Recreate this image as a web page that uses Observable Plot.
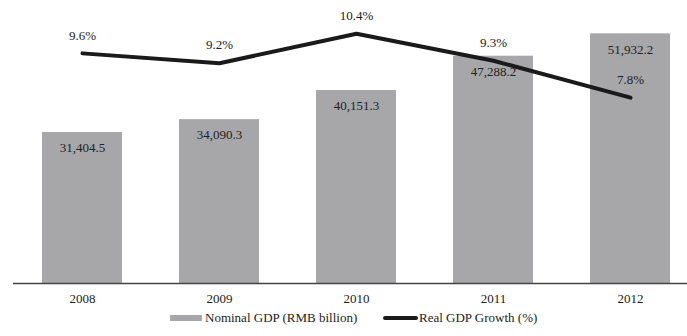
<!DOCTYPE html>
<html>
<head>
<meta charset="utf-8">
<script src="https://cdn.jsdelivr.net/npm/d3@7"></script>
<script src="https://cdn.jsdelivr.net/npm/@observablehq/plot@0.6"></script>
<style>
  html, body { margin: 0; padding: 0; background: #fff; }
  #wrap { width: 687px; font-family: "Liberation Serif", "Times New Roman", serif; color: #222; }
  #legend { position: relative; height: 28px; font-size: 13px; }
  .sw { position: absolute; }
  .lt { position: absolute; white-space: nowrap; line-height: 14px; }
</style>
</head>
<body>
<div id="wrap">
  <div id="chart"></div>
  <div id="legend">
    <div class="sw" style="left:170px; top:7px; width:32px; height:6px; background:#a7a7aa;"></div>
    <div class="lt" style="left:205px; top:3px;">Nominal GDP (RMB billion)</div>
    <div class="sw" style="left:383px; top:8px; width:35px; height:4px; background:#1a1a1a; border-radius:2px;"></div>
    <div class="lt" style="left:419px; top:3px;">Real GDP Growth (%)</div>
  </div>
</div>
<script>
const years = ["2008", "2009", "2010", "2011", "2012"];
const nominalGDP = [31404.5, 34090.3, 40151.3, 47288.2, 51932.2];
const realGrowth = [9.6, 9.2, 10.4, 9.3, 7.8];
const nominalLabels = ["31,404.5", "34,090.3", "40,151.3", "47,288.2", "51,932.2"];
const growthLabels = ["9.6%", "9.2%", "10.4%", "9.3%", "7.8%"];

// secondary (growth) axis mapped onto the primary value range, as in a dual-axis chart
const growthToPrimary = d3.scaleLinear().domain([0.25, 11.5]).range([0, 57600]);

const data = years.map((y, i) => ({
  year: y,
  gdp: nominalGDP[i],
  growth: realGrowth[i],
  gdpLabel: nominalLabels[i],
  growthLabel: growthLabels[i],
  growthY: growthToPrimary(realGrowth[i])
}));

const chart = Plot.plot({
  width: 687,
  height: 308,
  marginTop: 9,
  marginBottom: 25,
  marginLeft: 13,
  marginRight: 0,
  style: { fontFamily: "Liberation Serif, Times New Roman, serif", fontSize: "13px", color: "#222", background: "#fff" },
  x: { domain: years, range: [41, 670], paddingInner: 0.417, paddingOuter: 0, label: null },
  y: { domain: [0, 57000], axis: null },
  marks: [
    Plot.barY(data, { x: "year", y: "gdp", fill: "#a7a7aa" }),
    Plot.ruleY([0], { stroke: "#444", strokeWidth: 1.3 }),
    Plot.axisX({ tickSize: 0, tickPadding: 10, fontSize: 13, fill: "#222" }),
    Plot.text(data, { x: "year", y: "gdp", text: "gdpLabel", dy: 15.5, fontSize: 13, fill: "#222" }),
    Plot.line(data, { x: "year", y: "growthY", stroke: "#1a1a1a", strokeWidth: 4, strokeLinecap: "round", strokeLinejoin: "miter" }),
    Plot.text(data, { x: "year", y: "growthY", text: "growthLabel", dy: -18, fontSize: 13, fill: "#222" })
  ]
});
document.getElementById("chart").appendChild(chart);
</script>
</body>
</html>
